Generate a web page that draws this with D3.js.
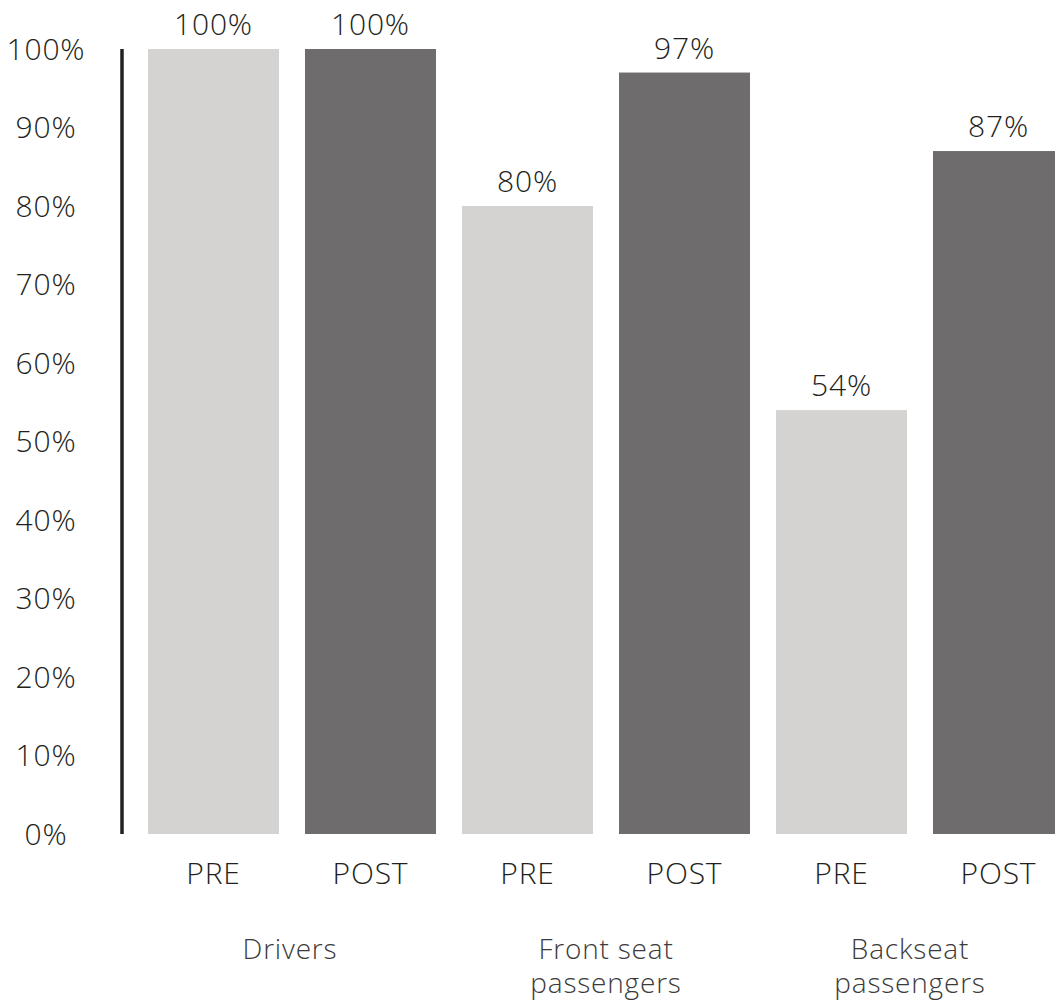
<!DOCTYPE html>
<html lang="en">
<head>
  <meta charset="UTF-8">
  <title>PRE / POST</title>
  <script src="https://cdnjs.cloudflare.com/ajax/libs/d3/7.8.5/d3.min.js"></script>
  <style>
    * { margin: 0; padding: 0; }
    html, body { background: #fff; }
    svg text { font-family: "Open Sans", sans-serif; font-weight: 300; letter-spacing: 0.8px; }
  </style>
</head>
<body>
<div id="chart"></div>
<script>
  // data
  const groups = ['Drivers', 'Front seat passengers', 'Backseat passengers']
  const groupLines = [['Drivers'], ['Front seat', 'passengers'], ['Backseat', 'passengers']]
  const phases = ['PRE', 'POST']
  const preValues = [100, 80, 54]
  const postValues = [100, 97, 87]
  const yTicks = [0, 10, 20, 30, 40, 50, 60, 70, 80, 90, 100]

  const W = 1055, H = 1000
  const colors = { PRE: '#d4d3d2', POST: '#6e6c6d' }
  const ink = '#231f20'

  const bars = []
  groups.forEach((g, i) => {
    bars.push({ group: g, phase: 'PRE', value: preValues[i] })
    bars.push({ group: g, phase: 'POST', value: postValues[i] })
  })

  const svg = d3.select('#chart').append('svg')
    .attr('width', W)
    .attr('height', H)

  const x = d3.scaleBand()
    .domain(bars.map(d => d.group + '|' + d.phase))
    .range([148, 1064])
    .paddingInner(26 / 157)
    .paddingOuter(0)

  const y = d3.scaleLinear().domain([0, 100]).range([834, 49])

  // y axis line
  svg.append('line')
    .attr('x1', 122).attr('x2', 122)
    .attr('y1', y(100)).attr('y2', y(0))
    .attr('stroke', ink)
    .attr('stroke-width', 3.5)

  // tick labels
  svg.selectAll('.ytick').data(yTicks).join('text')
    .attr('class', 'ytick')
    .attr('x', 46)
    .attr('y', d => y(d))
    .attr('dy', '0.36em')
    .attr('text-anchor', 'middle')
    .attr('fill', ink)
    .style('font-size', '30px')
    .text(d => d + '%')

  // bars
  svg.selectAll('.bar').data(bars).join('rect')
    .attr('class', 'bar')
    .attr('x', d => x(d.group + '|' + d.phase))
    .attr('width', x.bandwidth())
    .attr('y', d => y(d.value))
    .attr('height', d => y(0) - y(d.value))
    .attr('fill', d => colors[d.phase])

  // value labels
  svg.selectAll('.val').data(bars).join('text')
    .attr('class', 'val')
    .attr('x', d => x(d.group + '|' + d.phase) + x.bandwidth() / 2)
    .attr('y', d => y(d.value) - 14)
    .attr('text-anchor', 'middle')
    .attr('fill', ink)
    .style('font-size', '30px')
    .text(d => d.value + '%')

  // phase labels
  svg.selectAll('.phase').data(bars).join('text')
    .attr('class', 'phase')
    .attr('x', d => x(d.group + '|' + d.phase) + x.bandwidth() / 2)
    .attr('y', 884)
    .attr('text-anchor', 'middle')
    .attr('fill', ink)
    .style('font-size', '30px')
    .text(d => d.phase)

  // group labels
  const groupCenters = [290, 606, 910]
  const gl = svg.selectAll('.grp').data(groups).join('text')
    .attr('class', 'grp')
    .attr('text-anchor', 'middle')
    .attr('fill', '#3d3a3b')
    .style('font-size', '28px')
  gl.each(function(g, i) {
    d3.select(this).selectAll('tspan').data(groupLines[i]).join('tspan')
      .attr('x', groupCenters[i])
      .attr('y', (d, j) => 959 + j * 34)
      .text(d => d)
  })
</script>
</body>
</html>
